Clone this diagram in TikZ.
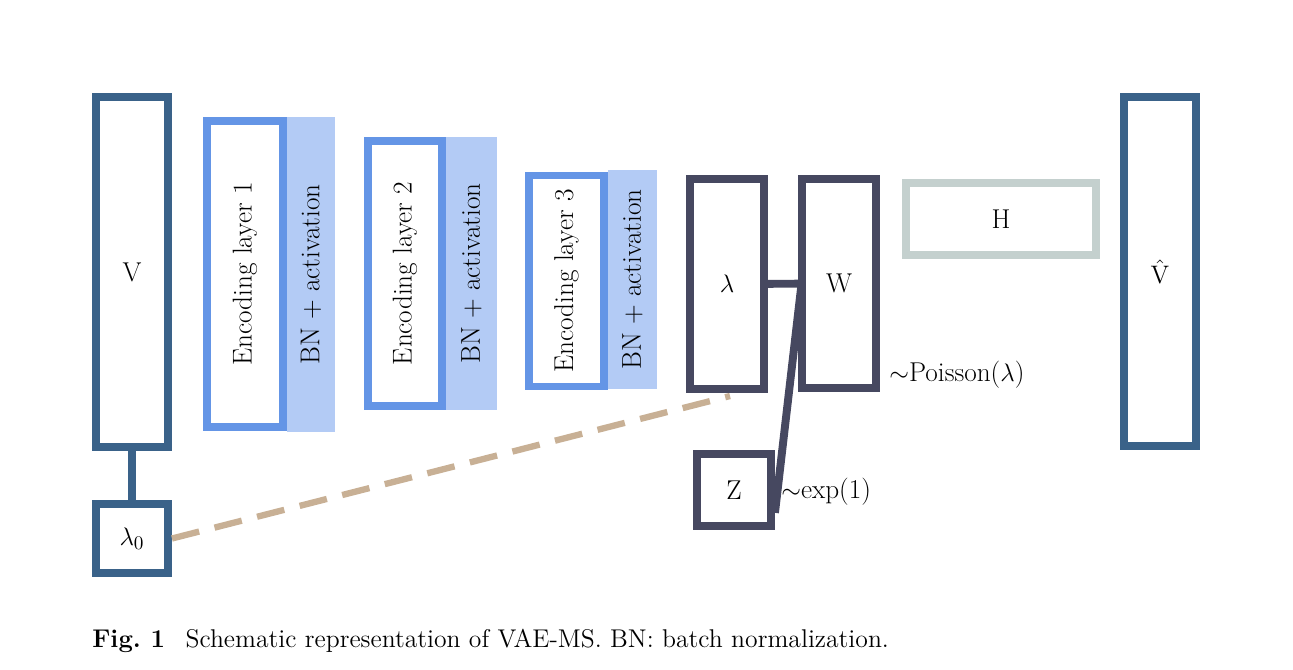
\documentclass[tikz,border=0pt]{standalone}
\usepackage{amsmath}
\usepackage{tikz}
\usetikzlibrary{calc}
\definecolor{ioblue}{HTML}{3A6289}
\definecolor{encblue}{HTML}{6495E6}
\definecolor{bnfill}{HTML}{B3CBF5}
\definecolor{latent}{HTML}{464860}
\definecolor{hgray}{HTML}{C4D0CE}
\definecolor{dashtan}{HTML}{C8B095}
\tikzset{
    box/.style={draw, line width=4.5pt, fill=white, inner sep=0pt, font=\fontsize{15.5}{18}\selectfont},
    iobox/.style={box, draw=ioblue},
    encbox/.style={box, draw=encblue, rotate=90},
    bnband/.style={fill=bnfill, draw=none, inner sep=0pt, rotate=90, font=\fontsize{15.5}{18}\selectfont},
    latbox/.style={box, draw=latent},
    link/.style={line width=4.5pt},
    dashlink/.style={line width=3.6pt, dashtan, dash pattern=on 16pt off 9pt},
    lbl/.style={inner sep=0pt, font=\fontsize{15.5}{18}\selectfont},
    capt/.style={inner sep=0pt, font=\fontsize{14.6}{17}\selectfont}
}

\begin{document}
\begin{tikzpicture}[x=0.02cm, y=-0.02cm]
    \useasboundingbox (0,0) rectangle (1293,669);

    % input, prior and output
    \node[iobox, minimum width=1.44cm, minimum height=7cm] (V) at (132,272) {V};
    \node[iobox, minimum width=1.44cm, minimum height=1.38cm] (lam0) at (132,538.5) {$\lambda_0$};
    \node[iobox, minimum width=1.44cm, minimum height=6.98cm] (Vhat) at (1160,271.5) {$\hat{\mathrm{V}}$};
    \draw[link, ioblue] (V) -- (lam0);

    % encoder
    \node[bnband, minimum width=6.3cm, minimum height=0.96cm] (bn1) at (311,274.5) {BN + activation};
    \node[bnband, minimum width=5.46cm, minimum height=1.02cm] (bn2) at (471.5,273.5) {BN + activation};
    \node[bnband, minimum width=4.38cm, minimum height=0.98cm] (bn3) at (632.5,279.5) {BN + activation};
    \node[encbox, minimum width=6.12cm, minimum height=1.52cm] (enc1) at (245,274) {Encoding layer 1};
    \node[encbox, minimum width=5.3cm, minimum height=1.48cm] (enc2) at (405,273.5) {Encoding layer 2};
    \node[encbox, minimum width=4.22cm, minimum height=1.5cm] (enc3) at (566.5,281) {Encoding layer 3};

    % latent part
    \node[latbox, minimum width=1.48cm, minimum height=4.2cm] (lam) at (727,284) {$\lambda$};
    \node[latbox, minimum width=1.48cm, minimum height=4.18cm] (W) at (839,283.5) {W};
    \node[latbox, minimum width=1.48cm, minimum height=1.44cm] (Z) at (734,490) {Z};
    \draw[link, latent] (lam) -- (W);
    \draw[link, latent] ([xshift=2pt]W.west) -- ([yshift=-13pt]Z.east);

    \node[lbl, anchor=west] (poisson) at (889,375) {$\sim$Poisson($\lambda$)};
    \node[lbl, anchor=west] (expo) at (781,492) {$\sim$exp(1)};

    % decoder output
    \node[box, draw=hgray, minimum width=3.8cm, minimum height=1.44cm] (H) at (1001,219) {H};

    \coordinate (dashend) at (730,396);
    \draw[dashlink] (lam0.east) -- (dashend);

    \node[capt, anchor=west] (caption) at (92,641) {\textbf{Fig.~1}\hspace{0.8em}Schematic representation of VAE-MS. BN: batch normalization.};

\end{tikzpicture}
\end{document}
